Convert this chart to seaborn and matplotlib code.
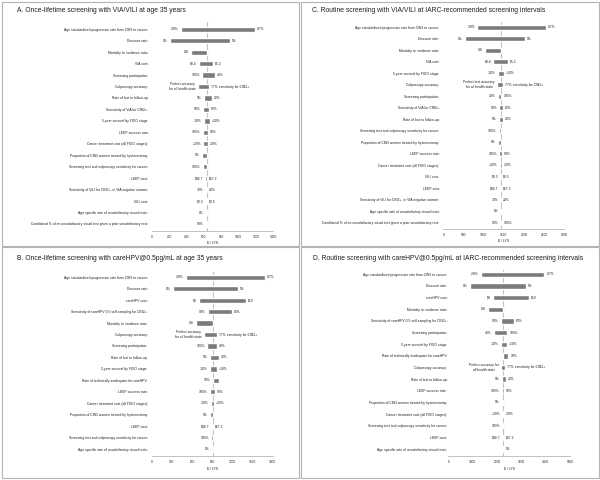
import numpy as np
import pandas as pd
import seaborn as sns
import matplotlib
matplotlib.use("Agg")
import matplotlib.pyplot as plt
from matplotlib.patches import Rectangle

# ---------------- data ----------------
# Panel A: once-lifetime VIA/VILI at age 35
a_params = [
    "Age standardized progression rate from CIN3 to cancer:",
    "Discount rate:",
    "Mortality to incidence ratio:",
    "VIA cost:",
    "Screening participation:",
    "Colposcopy accuracy:",
    "Rate of lost to follow-up:",
    "Sensitivity of VIA for CIN2+:",
    "5-year survival by FIGO stage:",
    "LEEP success rate:",
    "Cancer treatment cost (all FIGO stages):",
    "Proportion of CIN3 women treated by hysterectomy:",
    "Screening test and colposcopy sensitivity for cancer:",
    "LEEP cost:",
    "Sensitivity of VILI for CIN2+, in VIA negative women:",
    "VILI cost:",
    "Age specific rate of unsatisfactory visual tests:",
    "Conditional % of an unsatisfactory visual test given a prior unsatisfactory test:",
]
a_low = [338, 210, 449, 545, 583, 537, 603, 591, 599, 587, 595, 580, 591, 617, 622, 625, 626, 628]
a_high = [1190, 902, 633, 710, 729, 664, 695, 664, 672, 652, 652, 633, 633, 640, 640, 636, 633, 633]
a_lab_low = ["2.8%", "0%", "0.8", "$3.4", "100%", "Perfect accuracy\nfor all health state", "5%", "50%",
             "-10%", "100%", "+20%", "5%", "100%", "$44.7", "30%", "$0.3", "0%", "90%"]
a_lab_high = ["0.7%", "5%", "", "$5.2", "40%", "77% sensitivity for CIN2+", "20%", "63%",
              "+10%", "90%", "-20%", "", "", "$67.2", "22%", "$0.5", "", ""]
a_base = 633

# Panel B: once-lifetime careHPV at age 35
b_params = [
    "Age standardized progression rate from CIN3 to cancer:",
    "Discount rate:",
    "careHPV cost:",
    "Sensitivity of careHPV 0.5 self-sampling for CIN2+:",
    "Mortality to incidence ratio:",
    "Colposcopy accuracy:",
    "Screening participation:",
    "Rate of lost to follow-up:",
    "5-year survival by FIGO stage:",
    "Rate of technically inadequate for careHPV:",
    "LEEP success rate:",
    "Cancer treatment cost (all FIGO stages):",
    "Proportion of CIN3 women treated by hysterectomy:",
    "LEEP cost:",
    "Screening test and colposcopy sensitivity for cancer:",
    "Age specific rate of unsatisfactory visual tests:",
]
b_low = [510, 321, 708, 833, 655, 783, 827, 868, 868, 905, 868, 887, 868, 897, 887, 898]
b_high = [1686, 1289, 1403, 1200, 905, 967, 976, 1006, 967, 997, 942, 932, 905, 917, 905, 905]
b_lab_low = ["2.8%", "0%", "$3", "90%", "0.8", "Perfect accuracy\nfor all health state", "100%", "5%",
             "-10%", "10%", "100%", "-20%", "5%", "$44.7", "100%", "0%"]
b_lab_high = ["0.7%", "5%", "$10", "63%", "", "77% sensitivity for CIN2+", "40%", "20%",
              "+10%", "", "90%", "+20%", "", "$67.2", "", ""]
b_base = 905

# Panel C: routine VIA/VILI at IARC intervals
c_params = [
    "Age standardized progression rate from CIN3 to cancer:",
    "Discount rate:",
    "Mortality to incidence ratio:",
    "VIA cost:",
    "5-year survival by FIGO stage:",
    "Colposcopy accuracy:",
    "Screening participation:",
    "Sensitivity of VIA for CIN2+:",
    "Rate of lost to follow-up:",
    "Screening test and colposcopy sensitivity for cancer:",
    "Proportion of CIN3 women treated by hysterectomy:",
    "LEEP success rate:",
    "Cancer treatment cost (all FIGO stages):",
    "VILI cost:",
    "LEEP cost:",
    "Sensitivity of VILI for CIN2+, in VIA negative women:",
    "Age specific rate of unsatisfactory visual tests:",
    "Conditional % of an unsatisfactory visual test given a prior unsatisfactory test:",
]
c_low = [844, 538, 1042, 1241, 1365, 1340, 1357, 1390, 1390, 1374, 1365, 1390, 1407, 1415, 1415, 1420, 1432, 1420]
c_high = [2548, 2027, 1432, 1613, 1514, 1474, 1439, 1474, 1481, 1432, 1432, 1457, 1457, 1440, 1440, 1440, 1448, 1440]
c_lab_low = ["2.8%", "0%", "0.8", "$3.4", "-10%", "Perfect test accuracy\nfor all health state", "40%", "50%",
             "5%", "100%", "5%", "100%", "+20%", "$0.3", "$44.7", "30%", "0%", "90%"]
c_lab_high = ["0.7%", "5%", "", "$5.2", "+10%", "77% sensitivity for CIN2+", "100%", "63%",
              "20%", "", "", "90%", "-20%", "$0.5", "$67.2", "22%", "", "100%"]
c_base = 1432

# Panel D: routine careHPV at IARC intervals
d_params = [
    "Age standardized progression rate from CIN3 to cancer:",
    "Discount rate:",
    "careHPV cost:",
    "Mortality to incidence ratio:",
    "Sensitivity of careHPV 0.5 self-sampling for CIN2+:",
    "Screening participation:",
    "5-year survival by FIGO stage:",
    "Rate of technically inadequate for careHPV:",
    "Colposcopy accuracy:",
    "Rate of lost to follow-up:",
    "LEEP success rate:",
    "Proportion of CIN3 women treated by hysterectomy:",
    "Cancer treatment cost (all FIGO stages):",
    "Screening test and colposcopy sensitivity for cancer:",
    "LEEP cost:",
    "Age specific rate of unsatisfactory visual tests:",
]
d_low = [1346, 893, 1852, 1621, 2169, 1881, 2169, 2263, 2169, 2222, 2196, 2210, 2240, 2210, 2245, 2263]
d_high = [3951, 3185, 3333, 2263, 2716, 2428, 2403, 2469, 2321, 2374, 2292, 2263, 2292, 2263, 2280, 2300]
d_lab_low = ["2.8%", "0%", "$3", "0.8", "90%", "40%", "-10%", "", "Perfect accuracy for\nall health stats",
             "5%", "100%", "5%", "+20%", "100%", "$44.7", ""]
d_lab_high = ["0.7%", "5%", "$10", "", "63%", "100%", "+10%", "10%", "77% sensitivity for CIN2+",
              "20%", "90%", "", "-20%", "", "$67.2", "0%"]
d_base = 2263

titles = [
    "A. Once-lifetime screening with VIA/VILI at age 35 years",
    "B. Once-lifetime screening with careHPV@0.5pg/mL at age 35 years",
    "C. Routine screening with VIA/VILI at IARC-recommended screening intervals",
    "D. Routine screening with careHPV@0.5pg/mL at IARC-recommended screening intervals",
]

# ---------------- style ----------------
sns.set_style("white")
plt.rcParams['font.family'] = ['Liberation Sans', 'DejaVu Sans']

W, H = 600, 480
fig = plt.figure(figsize=(6, 4.8), dpi=100)

BAR = '#7b7b7b'
TXT = '#1e1e1e'
AXC = '#a8a8a8'


def tornado(params, low, high, lab_low, lab_high, base, xmax, xstep,
            x0, x1, top, bottom, row0, step, pad):
    ax = fig.add_axes([x0 / W, 1 - bottom / H, (x1 - x0) / W, (bottom - top) / H])
    df = pd.DataFrame({'param': params, 'low': low, 'high': high,
                       'lab_low': lab_low, 'lab_high': lab_high})
    y = np.arange(len(df))
    ax.axvline(base, color='#c4c4c4', lw=0.8, zorder=0)
    ax.barh(y, df['high'] - df['low'], left=df['low'], height=0.46, color=BAR, zorder=2)
    ax.set_xlim(0, xmax)
    ax.set_xticks(np.arange(0, xmax + 1, xstep))
    ax.set_ylim((bottom - row0) / step, (top - row0) / step)
    ax.set_yticks(y)
    ax.set_yticklabels(df['param'], fontsize=2.4, color=TXT)
    ax.tick_params(axis='y', length=0, pad=pad)
    ax.tick_params(axis='x', length=2, width=0.4, color=AXC, labelsize=2.3,
                   labelcolor=TXT, pad=1.2)
    sns.despine(ax=ax, left=True)
    ax.spines['bottom'].set_color(AXC)
    ax.spines['bottom'].set_linewidth(0.5)
    for i, r in df.iterrows():
        if r['lab_low']:
            ax.annotate(r['lab_low'], (r['low'], i), xytext=(-1.6, 0), textcoords='offset points',
                        ha='right', va='center', fontsize=2.4, color=TXT, multialignment='center')
        if r['lab_high']:
            ax.annotate(r['lab_high'], (r['high'], i), xytext=(1.4, 0), textcoords='offset points',
                        ha='left', va='center', fontsize=2.4, color=TXT)
    fig.text((x0 + x1) / 2 / W, 1 - (bottom + 12) / H, "$ / LYS", fontsize=2.4,
             color=TXT, ha='center', va='center')
    return ax


tornado(a_params, a_low, a_high, a_lab_low, a_lab_high, a_base, 1400, 200,
        151.7, 273.3, 21.7, 230.7, 29.3, 11.45, 2.4)
tornado(b_params, b_low, b_high, b_lab_low, b_lab_high, b_base, 1800, 300,
        151.7, 272.7, 271.7, 456, 277.3, 11.45, 2.8)
tornado(c_params, c_low, c_high, c_lab_low, c_lab_high, c_base, 3000, 500,
        443.3, 564.3, 21.7, 229, 27.3, 11.5, 2.8)
tornado(d_params, d_low, d_high, d_lab_low, d_lab_high, d_base, 5000, 1000,
        448.3, 570, 270, 456, 274.3, 11.65, 0.8)

# panel titles
for t, (x, y) in zip(titles, [(17, 10), (17, 258), (312, 10), (312.7, 258)]):
    fig.text(x / W, 1 - y / H, t, fontsize=4.9, color=TXT, ha='left', va='center')

# panel frames
for (x, y, w, h) in [(1.5, 1.5, 297, 244), (301, 1.5, 297.5, 244),
                     (1.5, 247, 297, 231), (301, 247, 297.5, 231)]:
    fig.add_artist(Rectangle((x / W, 1 - (y + h) / H), w / W, h / H,
                             transform=fig.transFigure, fill=False,
                             ec='#b4b4b4', lw=0.8))

fig.savefig("out.png", dpi=100)
